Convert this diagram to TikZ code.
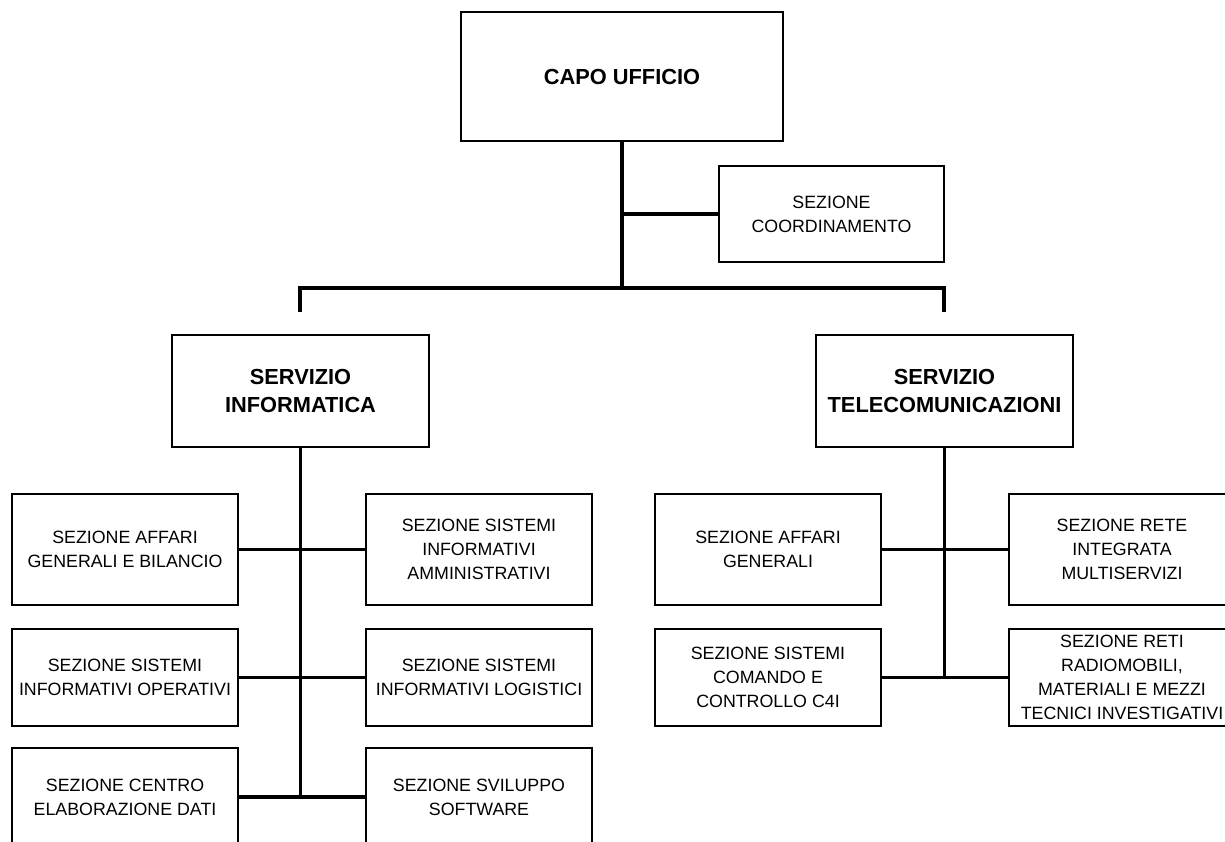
\documentclass[tikz,border=0pt]{standalone}
\usepackage{fontspec}
\setmainfont{Liberation Sans}
\begin{document}
\begin{tikzpicture}[x=1pt,y=-1pt,
  unit/.style={draw=black,line width=2.2pt,inner sep=0pt,align=center,
    font=\fontsize{17.8}{24}\selectfont},
  head/.style={unit,font=\fontsize{21.8}{28}\selectfont\bfseries},
  link/.style={draw=black,line width=3.2pt,line join=miter}]
\useasboundingbox (0,0) rectangle (1225,842);

% top level
\node[head,minimum width=322pt,minimum height=129pt] (capo) at (622,76.5) {CAPO UFFICIO};
\node[unit,minimum width=225pt,minimum height=96pt] (coord) at (831.5,214) {SEZIONE\\COORDINAMENTO};

% services
\node[head,minimum width=257pt,minimum height=112pt] (inf) at (300.5,391) {SERVIZIO\\INFORMATICA};
\node[head,minimum width=257pt,minimum height=112pt] (tel) at (944.5,391) {SERVIZIO\\TELECOMUNICAZIONI};

% sections of the computing service
\node[unit,minimum width=226pt,minimum height=111pt] (ia1) at (125,549.5) {SEZIONE AFFARI\\GENERALI E BILANCIO};
\node[unit,minimum width=226pt,minimum height=97pt]  (ia2) at (125,677.5) {SEZIONE SISTEMI\\INFORMATIVI OPERATIVI};
\node[unit,minimum width=226pt,minimum height=98pt]  (ia3) at (125,797)   {SEZIONE CENTRO\\ELABORAZIONE DATI};
\node[unit,minimum width=226pt,minimum height=111pt] (ib1) at (479,549.5) {SEZIONE SISTEMI\\INFORMATIVI\\AMMINISTRATIVI};
\node[unit,minimum width=226pt,minimum height=97pt]  (ib2) at (479,677.5) {SEZIONE SISTEMI\\INFORMATIVI LOGISTICI};
\node[unit,minimum width=226pt,minimum height=98pt]  (ib3) at (479,797)   {SEZIONE SVILUPPO\\SOFTWARE};

% sections of the telecommunications service
\node[unit,minimum width=226pt,minimum height=111pt] (ta1) at (768,549.5)  {SEZIONE AFFARI\\GENERALI};
\node[unit,minimum width=226pt,minimum height=97pt]  (ta2) at (768,677.5)  {SEZIONE SISTEMI\\COMANDO E\\CONTROLLO C4I};
\node[unit,minimum width=226pt,minimum height=111pt] (tb1) at (1122,549.5) {SEZIONE RETE\\INTEGRATA\\MULTISERVIZI};
\node[unit,minimum width=226pt,minimum height=97pt]  (tb2) at (1122,677.5) {SEZIONE RETI\\RADIOMOBILI,\\MATERIALI E MEZZI\\TECNICI INVESTIGATIVI};

% junction points
\coordinate (hub)   at (622,288);
\coordinate (barL)  at (300,288);
\coordinate (barR)  at (944,288);
\coordinate (dropL) at (300,312);
\coordinate (dropR) at (944,312);

% connectors from the head office
\draw[link] (capo.south) -- (hub);
\draw[link] (capo.south |- coord.west) -- (coord.west);
\draw[link] (dropL) -- (barL) -- (barR) -- (dropR);

% computing service tree
\draw[link] (inf.south) -- (inf.south |- ia3.east);
\draw[link] (ia1.east) -- (ib1.west);
\draw[link] (ia2.east) -- (ib2.west);
\draw[link] (ia3.east) -- (ib3.west);

% telecommunications service tree
\draw[link] (tel.south) -- (tel.south |- ta2.east);
\draw[link] (ta1.east) -- (tb1.west);
\draw[link] (ta2.east) -- (tb2.west);
\end{tikzpicture}
\end{document}
